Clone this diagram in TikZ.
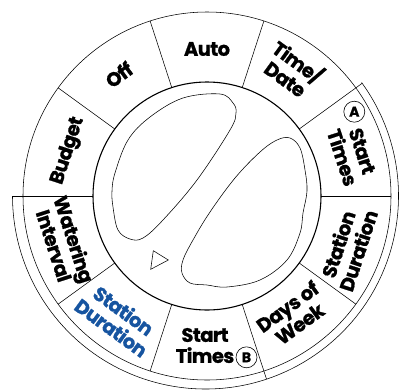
\documentclass[tikz,border=0pt]{standalone}
\usepackage{fontspec}
\usepackage{tikz}
\newfontfamily\dialfont{Poppins}[LetterSpace=-3, BoldFeatures={FakeBold=1}]
\definecolor{dialblue}{RGB}{22,84,160}

\begin{document}
\begin{tikzpicture}[
    x=1pt, y=1pt,
    thinline/.style={line width=0.55pt, black},
    knobline/.style={line width=1.1pt, black},
    dialtext/.style={font=\dialfont\bfseries\fontsize{19.5}{21}\selectfont, align=center, inner sep=0pt},
    badge/.style={circle, draw, line width=0.6pt, minimum size=21pt, inner sep=0pt,
        font=\dialfont\bfseries\fontsize{14}{14}\selectfont}
]
\useasboundingbox (-207,-193) rectangle (196,196);
\coordinate (c) at (0,0);

% rings
\draw[thinline] (c) circle[radius=184pt];
\draw[knobline] (c) circle[radius=114pt];
\draw[thinline, shift={(-1.5,0)}] (36:193) arc[start angle=36, end angle=-180, radius=193pt];

% sector dividers
\foreach \a in {0,72,108,144,216,252,324}
    \draw[thinline] (\a:114) -- (\a:184);
\draw[thinline] (36:114) -- (36:192);
\draw[thinline] (180:114) -- (180:194.5);
\draw[thinline] (288:114) -- (288:192.5);

% knob
\draw[thinline] plot[smooth cycle, tension=0.6] coordinates {
    (-64,-42) (-77,-43) (-89,-34) (-94,-11) (-95,5) (-92,23) (-79,56) (-57,79)
    (-24,98) (13,102) (26,93) (29,83) (23,66) (-10,16) (-44,-24)};
\draw[thinline] plot[smooth cycle, tension=0.6] coordinates {
    (70,56) (83,58) (93,48) (98,26) (100,5) (96,-17) (93,-37) (80,-64) (53,-84)
    (20,-91) (0,-89) (-17,-87) (-25,-77) (-24,-64) (-14,-44) (3,-16) (28,18) (53,44)};
\draw[thinline] (-53.7,-54.7) -- (-38.7,-64) -- (-56.3,-73.3) -- cycle;

% labels
\node[dialtext] (auto) at (90:147) {Auto};
\node[dialtext, rotate=36] (off) at (126:150) {Off};
\node[dialtext, rotate=72] (budget) at (162:146) {Budget};
\node[dialtext, rotate=-72] (watering) at (198:150) {Watering\\Interval};
\node[dialtext, rotate=-36, text=dialblue] (durL) at (234:152) {Station\\Duration};
\node[dialtext] (startB) at (-2,-149.5) {Start\\Times};
\node[badge] (badgeB) at (39.5,-161.3) {B};
\node[dialtext, rotate=36] (days) at (306:147) {Days of\\Week};
\node[dialtext, rotate=72] (durR) at (340:150) {Station\\Duration};
\node[dialtext, rotate=-72] (startA) at (16:151) {Start\\Times};
\node[badge] (badgeA) at (147.3,84.3) {A};
\node[dialtext, rotate=-36] (timedate) at (56:153) {Time/\\Date};
\end{tikzpicture}
\end{document}
